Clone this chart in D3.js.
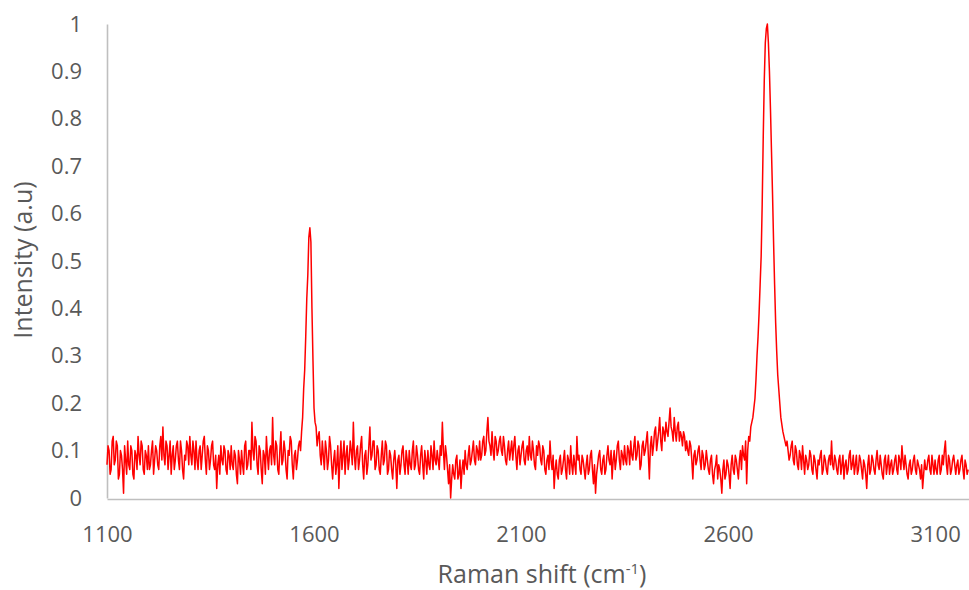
<!DOCTYPE html>
<html>
<head>
<meta charset="utf-8">
<script src="https://cdn.jsdelivr.net/npm/d3@7"></script>
<style>
  html, body { margin: 0; padding: 0; background: #fff; }
  svg { display: block; }
  text { font-family: "Open Sans", "Noto Sans", sans-serif; fill: #595959; }
</style>
</head>
<body>
<svg id="chart" width="969" height="590"></svg>
<script>
// Raman shift sampling grid (cm-1)
const xStart = 1100;
const xStep = 5;
// Intensity (a.u.) at xStart + i*xStep, rows of 50 cm-1 starting at the commented shift
const intensity = [
  /*1100*/ 0.07,0.10,0.06,0.13,0.08,0.11,0.05,0.09,0.01,0.08,
  /*1150*/ 0.12,0.06,0.10,0.04,0.09,0.13,0.07,0.11,0.05,0.09,
  /*1200*/ 0.11,0.07,0.12,0.08,0.10,0.06,0.13,0.15,0.07,0.11,
  /*1250*/ 0.09,0.05,0.11,0.08,0.12,0.06,0.10,0.04,0.08,0.11,
  /*1300*/ 0.13,0.07,0.10,0.12,0.06,0.11,0.09,0.13,0.05,0.10,
  /*1350*/ 0.08,0.12,0.06,0.02,0.09,0.11,0.07,0.10,0.05,0.09,
  /*1400*/ 0.11,0.06,0.09,0.03,0.08,0.10,0.05,0.12,0.07,0.10,
  /*1450*/ 0.16,0.08,0.12,0.05,0.10,0.03,0.09,0.13,0.06,0.11,
  /*1500*/ 0.17,0.07,0.11,0.05,0.14,0.08,0.10,0.04,0.09,0.12,
  /*1550*/ 0.04,0.10,0.08,0.12,0.14,0.23,0.34,0.47,0.57,0.40,
  /*1600*/ 0.19,0.15,0.13,0.09,0.12,0.06,0.10,0.08,0.11,0.04,
  /*1650*/ 0.10,0.07,0.02,0.12,0.09,0.05,0.11,0.08,0.10,0.16,
  /*1700*/ 0.06,0.11,0.08,0.13,0.04,0.10,0.07,0.15,0.09,0.12,
  /*1750*/ 0.07,0.10,0.05,0.12,0.08,0.11,0.06,0.09,0.04,0.10,
  /*1800*/ 0.02,0.09,0.07,0.11,0.05,0.08,0.10,0.06,0.12,0.07,
  /*1850*/ 0.09,0.05,0.11,0.04,0.08,0.10,0.06,0.09,0.12,0.07,
  /*1900*/ 0.08,0.11,0.16,0.06,0.09,0.03,0.00,0.07,0.04,0.09,
  /*1950*/ 0.05,0.02,0.08,0.10,0.06,0.11,0.08,0.12,0.07,0.10,
  /*2000*/ 0.12,0.09,0.13,0.10,0.17,0.11,0.14,0.08,0.12,0.10,
  /*2050*/ 0.13,0.09,0.11,0.07,0.12,0.10,0.08,0.13,0.06,0.11,
  /*2100*/ 0.09,0.12,0.07,0.11,0.13,0.08,0.10,0.06,0.09,0.11,
  /*2150*/ 0.07,0.10,0.05,0.09,0.12,0.06,0.02,0.08,0.04,0.09,
  /*2200*/ 0.06,0.10,0.04,0.08,0.11,0.05,0.07,0.13,0.09,0.05,
  /*2250*/ 0.08,0.04,0.09,0.06,0.10,0.03,0.01,0.07,0.10,0.05,
  /*2300*/ 0.09,0.06,0.11,0.07,0.04,0.10,0.08,0.12,0.06,0.09,
  /*2350*/ 0.11,0.07,0.10,0.12,0.08,0.13,0.09,0.11,0.07,0.12,
  /*2400*/ 0.10,0.14,0.04,0.13,0.11,0.15,0.12,0.17,0.10,0.14,
  /*2450*/ 0.16,0.13,0.19,0.14,0.17,0.12,0.16,0.14,0.11,0.13,
  /*2500*/ 0.12,0.09,0.11,0.04,0.10,0.08,0.11,0.06,0.09,0.07,
  /*2550*/ 0.08,0.05,0.09,0.03,0.07,0.04,0.06,0.01,0.08,0.05,
  /*2600*/ 0.07,0.02,0.09,0.05,0.08,0.04,0.10,0.11,0.08,0.03,
  /*2650*/ 0.13,0.15,0.17,0.21,0.30,0.39,0.51,0.76,0.96,1.00,
  /*2700*/ 0.90,0.73,0.54,0.37,0.26,0.20,0.155,0.13,0.11,0.10,
  /*2750*/ 0.09,0.12,0.07,0.10,0.06,0.09,0.11,0.05,0.08,0.07,
  /*2800*/ 0.09,0.05,0.08,0.04,0.07,0.10,0.06,0.08,0.05,0.09,
  /*2850*/ 0.12,0.06,0.08,0.05,0.09,0.07,0.04,0.08,0.06,0.10,
  /*2900*/ 0.07,0.05,0.09,0.06,0.08,0.04,0.07,0.02,0.09,0.06,
  /*2950*/ 0.08,0.05,0.10,0.06,0.07,0.04,0.09,0.07,0.05,0.08,
  /*3000*/ 0.06,0.09,0.05,0.08,0.11,0.06,0.07,0.04,0.08,0.06,
  /*3050*/ 0.09,0.05,0.07,0.04,0.02,0.08,0.06,0.09,0.05,0.07,
  /*3100*/ 0.08,0.05,0.09,0.06,0.07,0.12,0.05,0.08,0.06,0.09,
  /*3150*/ 0.05,0.08,0.06,0.09,0.04,0.07,0.06
];
// Intensity (a.u.) at the in-between shifts xStart + 2.5 + i*xStep
const intensityMid = [
  /*1102.5*/ 0.11,0.05,0.12,0.07,0.12,0.04,0.10,0.06,0.11,0.05,
  /*1152.5*/ 0.07,0.11,0.05,0.10,0.06,0.09,0.12,0.06,0.10,0.06,
  /*1202.5*/ 0.06,0.10,0.05,0.11,0.07,0.11,0.08,0.09,0.12,0.06,
  /*1252.5*/ 0.12,0.09,0.06,0.11,0.08,0.12,0.06,0.09,0.12,0.07,
  /*1302.5*/ 0.09,0.12,0.06,0.08,0.10,0.06,0.12,0.08,0.11,0.06,
  /*1352.5*/ 0.11,0.07,0.09,0.07,0.05,0.08,0.11,0.06,0.10,0.06,
  /*1402.5*/ 0.07,0.10,0.05,0.10,0.05,0.07,0.11,0.06,0.10,0.06,
  /*1452.5*/ 0.10,0.13,0.07,0.11,0.06,0.10,0.05,0.09,0.10,0.07,
  /*1502.5*/ 0.09,0.12,0.06,0.10,0.07,0.12,0.06,0.10,0.13,0.07,
  /*1552.5*/ 0.09,0.06,0.11,0.10,0.17,0.27,0.42,0.55,0.54,0.29,
  /*1602.5*/ 0.16,0.11,0.14,0.07,0.09,0.12,0.06,0.13,0.07,0.08,
  /*1652.5*/ 0.05,0.11,0.08,0.06,0.12,0.09,0.06,0.12,0.07,0.09,
  /*1702.5*/ 0.10,0.06,0.11,0.07,0.09,0.05,0.11,0.08,0.12,0.06,
  /*1752.5*/ 0.11,0.06,0.09,0.07,0.12,0.05,0.10,0.06,0.08,0.07,
  /*1802.5*/ 0.08,0.05,0.10,0.07,0.10,0.05,0.07,0.10,0.06,0.11,
  /*1852.5*/ 0.06,0.09,0.07,0.10,0.05,0.07,0.11,0.06,0.08,0.10,
  /*1902.5*/ 0.06,0.09,0.10,0.11,0.06,0.07,0.04,0.05,0.08,0.04,
  /*1952.5*/ 0.08,0.06,0.05,0.07,0.09,0.07,0.10,0.08,0.11,0.08,
  /*2002.5*/ 0.08,0.12,0.09,0.14,0.12,0.09,0.10,0.13,0.09,0.12,
  /*2052.5*/ 0.10,0.13,0.08,0.10,0.08,0.12,0.11,0.09,0.10,0.07,
  /*2102.5*/ 0.11,0.08,0.10,0.08,0.09,0.12,0.07,0.11,0.12,0.08,
  /*2152.5*/ 0.11,0.06,0.08,0.06,0.08,0.09,0.06,0.05,0.08,0.05,
  /*2202.5*/ 0.08,0.06,0.09,0.05,0.07,0.09,0.05,0.08,0.06,0.09,
  /*2252.5*/ 0.06,0.07,0.05,0.09,0.06,0.07,0.05,0.09,0.06,0.08,
  /*2302.5*/ 0.05,0.09,0.08,0.10,0.08,0.06,0.11,0.08,0.10,0.07,
  /*2352.5*/ 0.08,0.11,0.07,0.09,0.11,0.08,0.12,0.06,0.11,0.09,
  /*2402.5*/ 0.12,0.09,0.11,0.09,0.14,0.10,0.14,0.12,0.15,0.12,
  /*2452.5*/ 0.14,0.16,0.15,0.12,0.14,0.15,0.12,0.13,0.14,0.10,
  /*2502.5*/ 0.10,0.12,0.08,0.09,0.07,0.10,0.08,0.10,0.06,0.10,
  /*2552.5*/ 0.06,0.08,0.05,0.06,0.09,0.07,0.04,0.06,0.04,0.08,
  /*2602.5*/ 0.05,0.07,0.06,0.09,0.06,0.08,0.06,0.09,0.12,0.10,
  /*2652.5*/ 0.12,0.16,0.19,0.25,0.34,0.45,0.62,0.88,0.99,0.96,
  /*2702.5*/ 0.82,0.64,0.45,0.31,0.23,0.17,0.14,0.12,0.12,0.08,
  /*2752.5*/ 0.11,0.08,0.11,0.07,0.10,0.06,0.08,0.09,0.06,0.10,
  /*2802.5*/ 0.06,0.09,0.06,0.08,0.09,0.05,0.09,0.06,0.08,0.07,
  /*2852.5*/ 0.07,0.09,0.06,0.08,0.05,0.09,0.07,0.05,0.09,0.06,
  /*2902.5*/ 0.09,0.07,0.05,0.09,0.06,0.08,0.05,0.07,0.05,0.09,
  /*2952.5*/ 0.06,0.08,0.07,0.09,0.05,0.08,0.05,0.09,0.07,0.05,
  /*3002.5*/ 0.08,0.06,0.09,0.06,0.08,0.09,0.05,0.07,0.05,0.08,
  /*3052.5*/ 0.06,0.08,0.06,0.07,0.05,0.06,0.08,0.06,0.09,0.05,
  /*3102.5*/ 0.06,0.08,0.05,0.09,0.10,0.07,0.09,0.05,0.08,0.07,
  /*3152.5*/ 0.07,0.05,0.08,0.06,0.08,0.05
];
const xTicks = [1100, 1600, 2100, 2600, 3100];
const yTicks = [0, 0.1, 0.2, 0.3, 0.4, 0.5, 0.6, 0.7, 0.8, 0.9, 1];
const xTitle = "Raman shift (cm";
const xTitleSup = "-1";
const yTitle = "Intensity (a.u)";

const data = [];
intensity.forEach((v, i) => {
  data.push({ x: xStart + i * xStep, y: v });
  if (i < intensityMid.length) data.push({ x: xStart + i * xStep + xStep / 2, y: intensityMid[i] });
});

const svg = d3.select("#chart");
const mLeft = 107, mRight = 969, mTop = 24, mBottom = 498;

const x = d3.scaleLinear().domain([1100, 3182]).range([mLeft, mRight]);
const y = d3.scaleLinear().domain([0, 1]).range([mBottom, mTop]);

const axisColor = "#bfbfbf";
const yAxis = d3.axisLeft(y).tickValues(yTicks).tickSize(0).tickPadding(25)
  .tickFormat(d => String(+d.toFixed(1)));
const gy = svg.append("g").attr("transform", `translate(${mLeft},0)`).call(yAxis);
gy.select(".domain").attr("stroke", axisColor).attr("stroke-width", 1.6);
gy.selectAll("text").attr("font-size", 22).attr("fill", "#595959")
  .style("font-family", '"Open Sans", sans-serif');

const xAxis = d3.axisBottom(x).tickValues(xTicks).tickSize(0).tickPadding(27)
  .tickFormat(d3.format("d"));
const gx = svg.append("g").attr("transform", `translate(0,${mBottom + 1})`).call(xAxis);
gx.select(".domain").attr("stroke", axisColor).attr("stroke-width", 1.6);
gx.selectAll("text").attr("font-size", 22).attr("fill", "#595959")
  .style("font-family", '"Open Sans", sans-serif');

const line = d3.line().x(d => x(d.x)).y(d => y(d.y));
svg.append("path").datum(data)
  .attr("d", line)
  .attr("fill", "none")
  .attr("stroke", "#ff0000")
  .attr("stroke-width", 1.5)
  .attr("stroke-linejoin", "round");

const xt = svg.append("text")
  .attr("x", 542).attr("y", 583)
  .attr("text-anchor", "middle")
  .attr("font-size", 25);
xt.append("tspan").text(xTitle);
xt.append("tspan").text(xTitleSup).attr("font-size", 15).attr("dy", -9);
xt.append("tspan").text(")").attr("dy", 9);

svg.append("text")
  .attr("transform", "translate(32,260) rotate(-90)")
  .attr("text-anchor", "middle")
  .attr("font-size", 25)
  .text(yTitle);
</script>
</body>
</html>
